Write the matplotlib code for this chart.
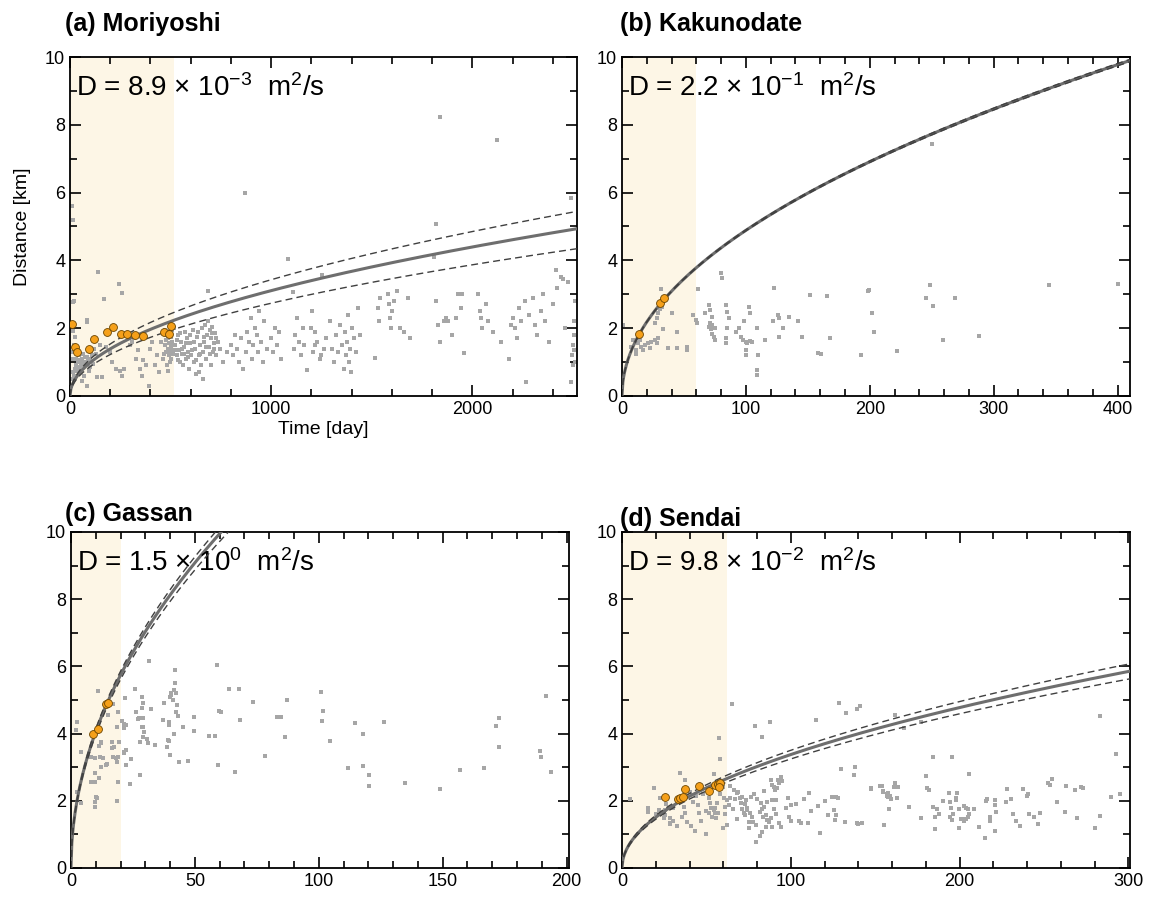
import numpy as np
import matplotlib
matplotlib.use("Agg")
import matplotlib.pyplot as plt
from matplotlib.ticker import MultipleLocator

plt.rcParams['font.family'] = ['Liberation Sans', 'DejaVu Sans']
plt.rcParams['mathtext.fontset'] = 'custom'
plt.rcParams['mathtext.rm'] = 'Liberation Sans'
plt.rcParams['mathtext.it'] = 'Liberation Sans:italic'

# ---------------- data ----------------
# (a) Moriyoshi
mori_x = [5, 10, 15, 20, 25, 30, 35, 40, 45, 50, 55, 60, 65, 70, 75, 80, 90, 100, 110,
          10, 15, 8, 12, 20, 18, 16, 25, 16, 83, 86, 84, 132, 160, 140, 243, 256, 170, 60, 70,
          100, 120, 150, 180, 200, 210, 230, 250, 260, 270, 300, 310, 320, 330, 340, 350, 360,
          365, 380, 393, 400, 410, 420, 430, 440, 450, 460, 470, 475, 480, 485, 490, 495, 500,
          505, 510, 480, 490, 500, 505, 510, 470, 495, 500, 485, 515,
          520, 530, 535, 540, 545, 550, 555, 560, 565, 570, 575, 580, 585, 590, 595, 600, 610,
          615, 620, 625, 630, 640, 645, 650, 655, 660, 665, 670, 675, 680, 685, 690, 695, 700,
          705, 710, 715, 720, 725, 735, 745, 688, 640, 660, 700, 760, 780,
          525, 532, 538, 548, 558, 568, 578, 588, 598, 608, 618, 628, 638, 648, 668, 678, 698,
          708, 718, 728, 488, 478, 468, 498, 508, 30, 45, 55, 65, 85, 95, 105, 115, 130,
          800, 810, 820, 830, 840, 850, 860, 875, 880, 890, 900, 905, 910, 920, 930, 935, 940,
          950, 960, 965, 980, 870,
          1000, 1010, 1020, 1030, 1040, 1050, 1084, 1107, 1115, 1120, 1130, 1140, 1150, 1160,
          1165, 1180, 1205, 1210, 1220, 1230, 1245, 1253, 1260,
          1200, 1220, 1250, 1270, 1290, 1300, 1310, 1320, 1330, 1340, 1350, 1360, 1365, 1370,
          1375, 1380, 1385, 1390, 1395, 1400, 1410, 1420, 1430, 1440,
          1518, 1530, 1535, 1540, 1580, 1585, 1590, 1595, 1600, 1610, 1625, 1640, 1660, 1680, 1690,
          1811, 1817, 1837, 1820, 1830, 1840, 1860, 1870, 1880, 1900, 1920, 1930, 1945, 1950, 1956,
          2030, 2040, 2045, 2050, 2070, 2080, 2100, 2120, 2140, 2180, 2190,
          2200, 2210, 2220, 2230, 2240, 2260, 2267, 2280, 2300, 2310, 2320, 2340, 2350, 2360,
          2380, 2400, 2416, 2420, 2440, 2450, 2460, 2475,
          2488, 2490, 2495, 2500, 2505, 2505, 2510, 2510, 2505, 2500]
mori_y = [0.3, 0.5, 0.7, 0.6, 0.8, 0.9, 0.75, 1.0, 0.85, 1.05, 0.95, 1.1, 0.9, 1.0, 1.15, 0.95, 1.05, 1.1, 1.2,
          5.6, 5.2, 1.1, 1.3, 1.5, 2.8, 2.76, 1.73, 1.93, 2.24, 2.17, 0.3, 0.55, 0.55, 3.67, 3.3, 3.05, 2.86, 0.45, 0.6,
          0.85, 1.4, 1.5, 1.45, 1.3, 1.0, 0.8, 0.75, 0.6, 0.8, 1.5, 1.6, 1.7, 1.1, 1.35, 0.8, 0.6,
          1.05, 0.9, 0.3, 1.4, 1.6, 0.9, 1.2, 0.7, 1.6, 1.1, 1.5, 1.3, 0.9, 1.7, 1.2, 1.0, 1.45,
          1.6, 1.25, 1.8, 1.55, 1.75, 1.35, 1.5, 1.95, 1.9, 1.1, 0.75, 2.0,
          1.5, 1.2, 1.8, 1.35, 1.0, 1.6, 1.25, 0.9, 1.45, 1.9, 1.1, 1.7, 1.3, 0.8, 1.55, 1.2, 1.95,
          1.0, 1.4, 0.65, 1.75, 1.2, 1.5, 0.9, 2.0, 1.3, 1.6, 2.1, 1.1, 1.8, 2.2, 1.45, 1.95, 1.7,
          2.05, 1.3, 1.55, 1.85, 1.2, 1.6, 1.4, 3.1, 0.7, 0.5, 0.9, 1.0, 1.3,
          1.35, 1.65, 1.05, 1.85, 1.4, 1.25, 1.55, 1.15, 1.8, 1.35, 1.6, 1.05, 1.9, 1.25, 1.75, 1.45, 1.25,
          1.85, 1.4, 1.7, 1.4, 1.65, 1.25, 1.3, 1.95, 1.1, 1.2, 0.8, 1.25, 1.15, 0.75, 1.3, 0.95, 1.25,
          1.5, 1.2, 1.8, 1.4, 1.0, 1.7, 0.8, 1.3, 1.9, 1.6, 2.3, 1.1, 1.5, 2.0, 1.8, 1.3, 2.5,
          1.6, 1.0, 2.2, 1.4, 6.0,
          1.7, 1.3, 2.0, 1.5, 1.9, 1.1, 4.04, 3.06, 1.4, 1.8, 2.3, 1.6, 1.2, 2.0,
          1.5, 0.77, 2.5, 1.3, 1.9, 1.6, 1.1, 3.57, 1.4,
          2.0, 1.5, 1.2, 1.7, 2.2, 1.4, 1.0, 1.8, 1.3, 2.1, 1.5, 0.8, 1.9, 1.2,
          1.6, 2.4, 1.0, 1.4, 0.7, 2.0, 1.7, 1.3, 2.6, 1.8,
          1.12, 2.6, 2.2, 2.9, 3.0, 2.7, 2.3, 2.0, 2.5, 2.8, 3.1, 2.0, 1.9, 2.9, 1.7,
          4.11, 5.06, 8.24, 2.8, 2.1, 1.6, 2.2, 2.3, 2.2, 1.8, 2.3, 3.0, 2.6, 3.0, 1.27,
          3.0, 2.5, 2.3, 2.0, 2.7, 2.2, 1.9, 7.55, 1.6, 1.1, 2.1,
          2.3, 2.0, 1.7, 2.6, 2.2, 2.8, 0.42, 2.4, 2.9, 2.1, 1.8, 2.5, 3.0, 2.2,
          1.6, 2.7, 3.72, 3.2, 3.5, 3.45, 2.0, 3.37,
          5.85, 0.4, 1.2, 1.5, 1.8, 2.2, 1.0, 2.8, 1.35, 0.9]
mori_ox = [8, 25, 36, 96, 120, 185, 216, 254, 285, 323, 365, 467, 490, 500]
mori_oy = [2.12, 1.46, 1.30, 1.39, 1.69, 1.90, 2.05, 1.84, 1.82, 1.80, 1.77, 1.90, 1.84, 2.07]

# (b) Kakunodate
kaku_x = [1, 7.6, 9.2, 13, 14.4, 11.7, 15.7, 18.4, 21, 23.4, 22.6, 17, 11.7, 26.6, 27.9, 29.3,
          26.6, 27.9, 29.3, 30.6, 32, 33.3, 31.2, 40, 37.4, 44.2, 44.2, 52.3, 52.3, 57.7, 59.6,
          60.4, 61.2, 67.2, 69.9, 71.2, 72.6, 70, 71, 72, 73, 75, 72.6, 74, 75.3, 80.2, 80.7,
          84, 85, 86, 85, 84, 84, 92, 94.6, 96, 97.3, 98.7, 100, 101, 103, 105, 100, 100, 102.2,
          103.5, 109, 109, 109, 110, 115.6, 121.5, 123, 126, 126.6, 127, 130, 135, 142, 145,
          151.8, 158, 161, 165.6, 168, 192.8, 199,
          198.6, 202, 203.5, 222, 250, 245, 248.5, 251, 259, 268.5, 288, 345, 400]
kaku_y = [2.1, 1.46, 1.65, 1.55, 1.66, 1.36, 1.46, 1.51, 1.55, 1.58, 1.41, 1.36, 1.24, 1.66, 1.55, 1.70,
          2.14, 2.29, 2.44, 2.58, 2.63, 1.98, 3.16, 2.44, 1.41, 1.41, 1.90, 1.46, 1.36, 2.39, 2.24,
          2.14, 3.15, 2.44, 2.68, 2.54, 2.34, 2.05, 2.15, 1.98, 2.1, 2.02, 1.84, 1.74, 1.66, 3.64, 3.47,
          2.68, 2.48, 2.29, 2.0, 1.70, 1.55, 1.90, 2.0, 1.74, 1.66, 2.2, 1.6, 1.55, 1.62, 1.6, 1.36, 1.21, 2.64,
          2.44, 2.0, 0.78, 0.63, 1.21, 1.66, 2.2, 3.2, 2.4, 2.3, 1.75, 2.0, 2.34, 2.2, 1.73,
          2.97, 1.26, 1.24, 2.95, 1.72, 1.21, 3.13,
          3.11, 2.44, 1.88, 1.33, 7.42, 2.88, 3.27, 2.66, 1.64, 2.88, 1.77, 3.27, 3.31]
kaku_ox = [13.5, 31, 34]
kaku_oy = [1.84, 2.73, 2.88]

# (c) Gassan
gas_x = [2.3, 1.9, 3.9, 3.9, 2.6, 8.2, 9.6, 10.9, 11.3, 12, 12.3, 11.7, 13.1, 14, 14.7, 12, 9.6,
         11.3, 8, 9.6, 10, 10.4, 9.6, 9.6, 14.8, 17.1, 16.7, 17.4, 16.5, 17.1, 18, 18.7, 19.1,
         18.8, 18.5, 18.4, 19, 19.4, 20.5, 21.2, 22, 21.5, 21.9, 21.5, 22, 21.2, 22.1, 23.8, 24.2,
         26, 26.3, 27.1, 27.5, 27.9, 27.9, 28.5, 28.9, 28.5, 28.9, 28.5, 29, 29.6, 28.9, 30.6, 30.9,
         31.3, 32.3, 34, 37, 37.4, 38.7, 39.3, 39.7, 39.7, 39.7, 39.8, 40, 40.5, 41, 40.3, 41.5,
         42.1, 42.1, 42.5, 42.8, 42.5, 43, 41.7, 43.7, 45.3, 47.4, 49.8, 49.8, 55.9, 58.2, 59,
         59.2, 59.9, 60.6, 63.7, 66, 68, 68.3, 73.5, 78.4, 84.9, 87.3, 86.5, 83,
         101.1, 101.8, 101.3, 104.7, 111.9, 114.7, 117.7, 117.7, 120.4, 120.4, 126.2, 134.8,
         149.1, 157, 166.7, 171.5, 172.9, 172.8, 189.2, 189.5, 191.6, 193.9]
gas_y = [4.34, 4.1, 3.46, 1.92, 2.27, 3.31, 3.26, 5.28, 3.64, 3.71, 3.76, 3.29, 3.26, 3.07, 3.1, 3.02, 2.84,
         2.69, 2.55, 2.55, 2.12, 2.07, 1.96, 1.83, 4.56, 4.88, 3.76, 3.61, 3.56, 3.29, 3.26, 3.16, 3.31,
         2.55, 1.99, 4.19, 4.63, 3.76, 4.38, 4.29, 4.26, 4.16, 5.07, 3.46, 3.5, 3.41, 3.07, 2.49, 3.23,
         5.32, 4.64, 4.42, 4.45, 3.76, 2.76, 5.1, 4.9, 4.75, 4.45, 4.21, 4.21, 4.06, 3.89, 3.83, 3.73,
         6.17, 4.73, 3.66, 4.40, 4.9, 3.61, 3.81, 3.79, 4.36, 4.26, 3.35, 5.1, 5.15, 5.0, 5.2, 5.3,
         5.89, 5.50, 5.2, 4.85, 4.65, 4.53, 3.99, 3.15, 4.21, 3.19, 4.5, 4.09, 3.93, 3.93, 6.04,
         3.07, 4.67, 4.64, 5.34, 2.86, 5.34, 4.39, 4.95, 3.33, 4.5, 5.0, 3.9, 4.5,
         5.25, 4.68, 4.37, 3.78, 2.99, 4.33, 4.0, 3.04, 2.77, 2.45, 4.35, 2.53,
         2.34, 2.91, 2.99, 4.24, 4.45, 3.61, 3.48, 3.29, 5.12, 2.85]
gas_ox = [8.8, 10.7, 14, 15]
gas_oy = [4.0, 4.13, 4.88, 4.90]

# (d) Sendai
sen_x = [18.7, 4.8, 15.7, 15.7, 22.6, 25.2, 25.6, 24.6, 28.6, 28.2, 30.5, 32.5, 28.6, 34.1, 37.5,
         36.5, 37.5, 35.5, 38.5, 41, 43, 45, 45.4, 49.8, 51.4, 52.4, 53, 51.8, 53.4, 54.4, 55.4,
         56.4, 57, 55.8, 54.4, 57.3, 58.3, 59.7, 62.3, 60.3, 62.3, 63.7, 63.3, 61.3, 65.3,
         66.3, 68.3, 69.7, 70.3, 71.3, 73.2, 72.8, 74.2, 76.2, 75.2, 77.2, 77.8, 79.2, 74.2, 72.2,
         75.2, 78.8, 82.7, 82.1, 83.1, 84.1, 81.5, 83.5, 85.1, 86.1, 87.1, 85.1, 83.1, 81.7, 79.2,
         87.5, 88.1, 89.1, 90.1, 90.7, 92.1, 93.1, 92.7, 91.1, 94.1, 89.1, 90.1, 91.1, 93.1, 94.1, 89.1,
         98.6, 100, 99, 100, 105, 106, 110, 110.9, 114.9, 117.5, 122, 127, 126.4, 125.8, 126.8,
         124.4, 127.8, 128.4, 129.8, 132, 132.7, 137.7, 138, 139, 140, 142, 139, 141, 147.6,
         153, 154.6, 155, 157, 157.8, 158.6, 161.5, 162,
         166.8, 177.4, 184, 195.8, 180, 205.8, 283.5, 292.9, 295,
         147.6, 154, 154.4, 157.7, 157.1, 159.6, 158.2, 161, 163.6, 163, 170, 177, 181, 182,
         184, 186.5, 185.5, 188, 185.7, 190, 193.7, 194.5, 195, 194.5, 195.7, 196.1, 198.7,
         198.1, 197.7, 199.9, 200.9, 199.9, 201.9, 202.9, 203.9, 204.9, 205.5, 205.1, 203.9,
         202.5, 208.7, 211.5, 215.1, 215.5, 216.1, 218.1, 218.1, 221.1, 221.1, 221.7, 221.1,
         227.4, 228.4, 230.4, 231.4, 233.4, 236, 237.4, 240.4, 240, 241.4, 244, 246.4, 247.8,
         252.4, 253.4, 255, 258, 262.4, 263, 268.4, 269.4, 272, 273.4, 280, 283.4, 290,
         20, 22, 26, 30, 33, 40, 42, 44, 47, 48, 50, 52, 55, 58, 60, 61, 64, 66, 67, 68, 69, 71,
         73, 76, 78, 80, 84, 86, 88, 95, 97, 103, 108, 112, 116, 120]
sen_y = [2.39, 2.05, 1.78, 1.68, 2.09, 1.73, 1.58, 1.48, 1.5, 1.35, 1.4, 1.25, 1.3, 2.82, 2.62,
         1.83, 1.63, 1.53, 1.38, 1.25, 1.1, 1.87, 1.63, 1.0, 2.07, 1.92, 1.78, 1.63, 1.53, 1.73, 1.63,
         1.92, 1.63, 1.5, 2.8, 3.86, 3.24, 1.18, 1.28, 2.07, 2.02, 2.07, 1.87, 1.82, 4.88,
         2.32, 2.22, 2.07, 1.92, 1.77, 2.02, 1.58, 1.73, 2.12, 1.38, 1.53, 1.38, 1.28, 1.8, 1.65,
         1.2, 4.23, 3.89, 1.92, 1.77, 1.82, 1.67, 1.52, 1.57, 1.42, 1.37, 1.23, 1.08, 0.94, 0.76,
         4.36, 2.62, 2.47, 2.42, 2.32, 2.37, 2.52, 2.62, 2.02, 2.72, 2.02, 1.77, 1.62, 1.33, 1.23, 1.23,
         2.07, 1.87, 1.53, 1.41, 1.41, 1.33, 1.33, 2.22, 4.4, 1.03, 1.57, 1.57, 1.42, 1.72, 2.12,
         2.1, 2.07, 4.9, 2.95, 1.36, 4.62, 2.77, 3.0, 1.33, 1.3, 1.33, 4.72, 4.83, 2.35,
         2.45, 2.3, 1.27, 2.2, 2.1, 2.14, 4.55, 2.52,
         4.16, 4.35, 3.29, 3.31, 2.74, 2.79, 4.53, 3.38, 2.19,
         2.37, 2.45, 2.27, 2.22, 2.14, 2.04, 1.77, 2.42, 2.42, 2.09, 1.82, 1.48, 2.38, 2.31,
         1.83, 1.76, 1.51, 1.61, 1.17, 2.0, 2.22, 1.95, 1.8, 1.51, 1.43, 1.61, 2.22,
         2.08, 2.02, 1.75, 1.45, 1.2, 1.45, 1.85, 1.8, 1.75, 1.61, 1.51, 1.45,
         1.41, 1.75, 1.23, 0.9, 2.0, 2.05, 1.51, 1.41, 2.01, 1.88, 1.67, 1.1,
         1.96, 2.35, 2.05, 1.61, 1.41, 1.26, 2.35, 2.2, 2.15, 1.61, 1.51, 1.31, 1.65,
         2.53, 2.48, 2.65, 1.96, 1.67, 2.45, 2.32, 1.5, 2.4, 2.37, 1.2, 1.54, 2.1,
         1.62, 1.72, 1.9, 1.78, 1.95, 2.25, 1.95, 2.15, 1.4, 2.2, 1.7, 2.3, 1.8, 2.2, 2.4, 1.6,
         2.45, 1.75, 2.05, 1.45, 2.25, 2.1, 1.9, 1.65, 2.2, 2.05, 2.3, 1.95, 1.5, 2.6, 1.8, 1.9,
         2.05, 1.7, 1.85, 2.0]
sen_ox = [25.6, 33.1, 34.5, 36.1, 37.5, 45.4, 51.8, 55, 56.9, 57.9, 57.3]
sen_oy = [2.11, 2.04, 2.07, 2.10, 2.36, 2.45, 2.28, 2.47, 2.49, 2.52, 2.42]

# diffusivity (m^2/s): fitted value, lower and upper bound
panels = [
    dict(title='(a) Moriyoshi', label='D = 8.9 × 10$^{\\mathrm{-3}}$  m$^{\\mathrm{2}}$/s',
         D=(8.9e-3, 6.9e-3, 1.084e-2), shade=515, xlim=2520, xmaj=1000, xmin=200,
         gx=mori_x, gy=mori_y, ox=mori_ox, oy=mori_oy),
    dict(title='(b) Kakunodate', label='D = 2.2 × 10$^{\\mathrm{-1}}$  m$^{\\mathrm{2}}$/s',
         D=(0.22, 0.2185, 0.2215), shade=60, xlim=410, xmaj=100, xmin=20,
         gx=kaku_x, gy=kaku_y, ox=kaku_ox, oy=kaku_oy),
    dict(title='(c) Gassan', label='D = 1.5 × 10$^{\\mathrm{0}}$  m$^{\\mathrm{2}}$/s',
         D=(1.52, 1.45, 1.58), shade=20, xlim=201, xmaj=50, xmin=10,
         gx=gas_x, gy=gas_y, ox=gas_ox, oy=gas_oy),
    dict(title='(d) Sendai', label='D = 9.8 × 10$^{\\mathrm{-2}}$  m$^{\\mathrm{2}}$/s',
         D=(0.105, 0.097, 0.113), shade=62.5, xlim=301, xmaj=100, xmin=20,
         gx=sen_x, gy=sen_y, ox=sen_ox, oy=sen_oy),
]

W, H = 1152, 898
rects = [(70, 57, 577, 396), (622, 57, 1130, 396), (71, 532, 569, 868), (622, 532, 1130, 868)]
title_pos = [(65, 31), (620, 31), (65, 521), (620, 526)]

fig = plt.figure(figsize=(W / 100, H / 100), dpi=100)

for p, (l, t, r, b), (tx, ty) in zip(panels, rects, title_pos):
    ax = fig.add_axes([l / W, 1 - b / H, (r - l) / W, (b - t) / H])
    ax.axvspan(0, p['shade'], color='#fdf6e6', lw=0, zorder=0)
    ax.scatter(p['gx'], p['gy'], marker='s', s=6, color='#a6a6a6', lw=0, zorder=2)

    # r = sqrt(4 pi D t)
    t_day = np.linspace(0, p['xlim'], 600)
    t_sec = t_day * 86400
    Dfit, Dlo, Dhi = p['D']
    ax.plot(t_day, np.sqrt(4 * np.pi * Dfit * t_sec) / 1000, color='#6e6e6e', lw=2.2, zorder=3)
    for Dv in (Dlo, Dhi):
        ax.plot(t_day, np.sqrt(4 * np.pi * Dv * t_sec) / 1000, color='#404040', lw=1.0,
                dashes=(5, 3), zorder=4)

    ax.scatter(p['ox'], p['oy'], s=32, facecolor='#f5a01a', edgecolor='#6b4500', lw=0.6, zorder=5)

    ax.set_xlim(0, p['xlim'])
    ax.set_ylim(0, 10)
    ax.xaxis.set_major_locator(MultipleLocator(p['xmaj']))
    ax.xaxis.set_minor_locator(MultipleLocator(p['xmin']))
    ax.yaxis.set_major_locator(MultipleLocator(2))
    ax.yaxis.set_minor_locator(MultipleLocator(1))
    ax.tick_params(which='both', direction='in', top=True, right=True, labelsize=13, width=1.2)
    ax.tick_params(which='major', length=8)
    ax.tick_params(which='minor', length=5)
    for s in ax.spines.values():
        s.set_linewidth(1.3)

    ax.text(0.012, 0.885, p['label'], transform=ax.transAxes, fontsize=20, va='baseline')
    fig.text(tx / W, 1 - ty / H, p['title'], fontsize=18, fontweight='bold', va='baseline')

    if p['title'].startswith('(a)'):
        ax.set_xlabel('Time [day]', fontsize=14, labelpad=2)
        ax.set_ylabel('Distance [km]', fontsize=14, labelpad=10)

fig.savefig('out.png', dpi=100)
